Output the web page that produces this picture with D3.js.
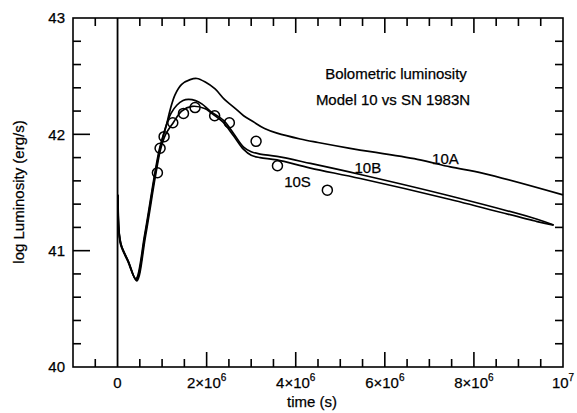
<!DOCTYPE html>
<html><head><meta charset="utf-8">
<script src="https://cdn.jsdelivr.net/npm/d3@7/dist/d3.min.js"></script>
<style>body{margin:0;background:#fff;}svg{display:block;font-family:"Liberation Sans",Arial,Helvetica,sans-serif;}
text{stroke:#000;stroke-width:0.25px;fill:#000;}</style>
</head><body><svg id="c" width="577" height="413"></svg>
<script>
// Data (time in units of 1e6 s, log luminosity in erg/s)
const tA = [0.01,0.03,0.07,0.23,0.41,0.61,0.83,0.945,1.09,1.18,1.29,1.44,1.63,1.78,1.97,2.19,2.4,2.62,2.83,3.04,3.3,3.58,4.1,4.5,5.22,6.73,7.47,8.21,10.0];
const lA = [41.48,41.18,41.05,40.91,40.76,41.14,41.65,41.88,42.07,42.21,42.34,42.43,42.47,42.48,42.45,42.39,42.30,42.23,42.16,42.11,42.05,42.01,41.96,41.93,41.88,41.785,41.72,41.665,41.48];
const tB = [0.01,0.03,0.08,0.24,0.42,0.62,0.84,0.955,1.07,1.2,1.33,1.47,1.59,1.75,1.9,2.08,2.38,2.6,2.83,3.0,3.2,3.58,4.33,5.45,7.47,9.42,9.79];
const lB = [41.48,41.18,41.05,40.91,40.75,41.14,41.65,41.88,42.05,42.18,42.25,42.29,42.30,42.29,42.26,42.20,42.12,42.01,41.89,41.85,41.83,41.81,41.75,41.655,41.47,41.27,41.22];
const tS = [0.01,0.03,0.09,0.25,0.43,0.63,0.85,0.965,1.08,1.25,1.44,1.67,1.97,2.08,2.26,2.38,2.6,2.83,3.0,3.2,3.58,4.33,5.45,7.47,9.42,9.79];
const lS = [41.47,41.17,41.04,40.90,40.74,41.13,41.64,41.87,42.00,42.10,42.20,42.24,42.22,42.19,42.14,42.10,41.99,41.87,41.82,41.80,41.78,41.71,41.62,41.44,41.25,41.22];
const obsT = [0.895,0.955,1.045,1.24,1.48,1.74,2.18,2.51,3.11,3.59,4.71];
const obsL = [41.67,41.88,41.98,42.10,42.18,42.23,42.16,42.10,41.94,41.73,41.52];
const seriesNames = ["10A","10B","10S"];
const labelPos = [[7.36,41.745],[5.62,41.668],[4.04,41.547]]; // label anchor in data coords
const xTickVals = [0,2,4,6,8,10];
const xTickMant = ["0","2×10","4×10","6×10","8×10","10"];
const xTickExp = ["","6","6","6","6","7"];
const yTickVals = [40,41,42,43];
const titleLines = ["Bolometric luminosity","Model 10 vs SN 1983N"];

const svg = d3.select("#c");
const L = 73, R = 563, T = 18, B = 367;
const x = d3.scaleLinear().domain([-1, 10]).range([L, R]);
const y = d3.scaleLinear().domain([40, 43]).range([B, T]);
const sw = 1.6;
const fs = 15;

// frame
svg.append("rect").attr("x", L).attr("y", T).attr("width", R - L).attr("height", B - T)
  .attr("fill", "none").attr("stroke", "#000").attr("stroke-width", sw);

// x ticks (top and bottom, inward)
const xMinor = d3.range(-0.5, 10, 0.5).filter(v => Math.abs(v) > 1e-9);
xMinor.forEach(v => {
  const major = Math.abs(v / 2 - Math.round(v / 2)) < 1e-9;
  const len = major ? 15 : 8;
  const px = x(v);
  svg.append("line").attr("x1", px).attr("x2", px).attr("y1", B).attr("y2", B - len).attr("stroke", "#000").attr("stroke-width", sw);
  svg.append("line").attr("x1", px).attr("x2", px).attr("y1", T).attr("y2", T + len).attr("stroke", "#000").attr("stroke-width", sw);
});
// x = 0 full line
svg.append("line").attr("x1", x(0)).attr("x2", x(0)).attr("y1", T).attr("y2", B).attr("stroke", "#000").attr("stroke-width", 1.8);

// y ticks
const yMinor = d3.range(40.2, 43, 0.2);
yMinor.forEach(v => {
  const major = Math.abs(v - Math.round(v)) < 1e-6;
  const py = y(v);
  svg.append("line").attr("x1", L).attr("x2", L + (major ? 17 : 8)).attr("y1", py).attr("y2", py).attr("stroke", "#000").attr("stroke-width", sw);
  svg.append("line").attr("x1", R).attr("x2", R - 8).attr("y1", py).attr("y2", py).attr("stroke", "#000").attr("stroke-width", sw);
});

// x tick labels
xTickVals.forEach((v, i) => {
  const t = svg.append("text").attr("x", x(v)).attr("y", 388).attr("text-anchor", "middle")
    .attr("font-size", fs);
  t.append("tspan").text(xTickMant[i]);
  if (xTickExp[i]) t.append("tspan").attr("dy", -7).attr("font-size", 10).text(xTickExp[i]);
});
// y tick labels
yTickVals.forEach(v => {
  svg.append("text").attr("x", 65).attr("y", y(v) + 5.3).attr("text-anchor", "end")
    .attr("font-size", fs).text(String(v));
});

// axis titles
svg.append("text").attr("x", 312).attr("y", 407).attr("text-anchor", "middle").attr("font-size", fs).text("time (s)");
svg.append("text").attr("transform", "translate(24,192) rotate(-90)").attr("text-anchor", "middle").attr("font-size", fs).text("log Luminosity (erg/s)");

// title
svg.append("text").attr("x", 396).attr("y", 79).attr("text-anchor", "middle").attr("font-size", fs).text(titleLines[0]);
svg.append("text").attr("x", 393).attr("y", 105).attr("text-anchor", "middle").attr("font-size", fs).text(titleLines[1]);

// curves
const line = d3.line().x(d => x(d[0])).y(d => y(d[1])).curve(d3.curveCatmullRom.alpha(0.5));
const allSeries = [[tA, lA], [tB, lB], [tS, lS]];
allSeries.forEach(([ts, ls]) => {
  svg.append("path").datum(ts.map((t, i) => [t, ls[i]])).attr("d", line)
    .attr("fill", "none").attr("stroke", "#000").attr("stroke-width", 1.7).attr("stroke-linejoin", "round");
});

// series labels
seriesNames.forEach((n, i) => {
  svg.append("text").attr("x", x(labelPos[i][0])).attr("y", y(labelPos[i][1])).attr("text-anchor", "middle")
    .attr("font-size", fs).text(n);
});

// observations
svg.selectAll("circle.obs").data(obsT.map((t, i) => [t, obsL[i]])).enter().append("circle")
  .attr("class", "obs").attr("cx", d => x(d[0])).attr("cy", d => y(d[1])).attr("r", 5)
  .attr("fill", "none").attr("stroke", "#000").attr("stroke-width", 1.5);
</script></body></html>
